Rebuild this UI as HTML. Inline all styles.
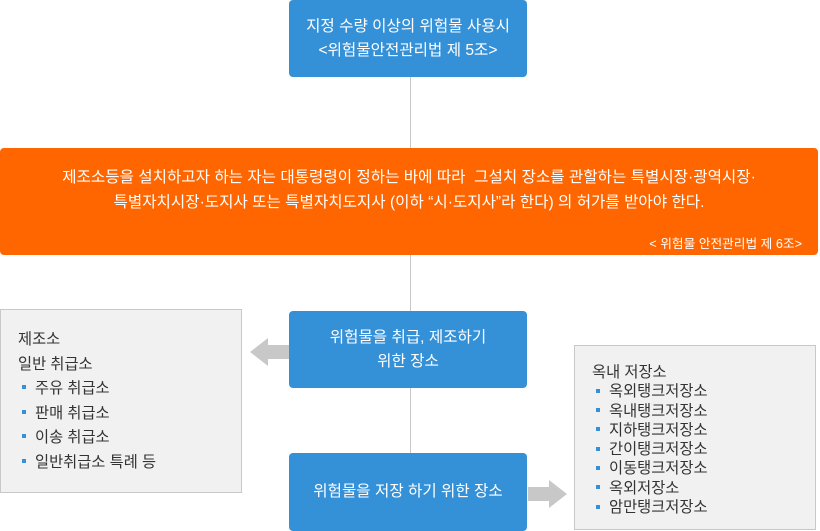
<!DOCTYPE html>
<html><head><meta charset="utf-8"><style>
*{margin:0;padding:0;box-sizing:border-box}
body{width:820px;height:531px;background:#fff;position:relative;overflow:hidden;font-family:"Liberation Sans","Noto Sans CJK KR",sans-serif}
.a{position:absolute}
.blue{background:#3491d8;color:#fff;border-radius:4px;display:flex;align-items:center;justify-content:center;text-align:center;font-size:15.6px;line-height:24px}
.grey{background:#f1f1f1;border:1px solid #c8c8c8;color:#333;font-size:15.3px}
.b{display:inline-block;width:4px;height:4px;background:#3491d8;margin:0 9px 3px 4px;vertical-align:middle}
</style></head><body>
<div class="a" style="left:410px;top:77px;width:1px;height:380px;background:#c8c8c8"></div>
<div class="a blue" style="left:289px;top:0;width:238px;height:77px">지정 수량 이상의 위험물 사용시<br>&lt;위험물안전관리법 제 5조&gt;</div>
<div class="a" style="left:0;top:148px;width:818px;height:107px;background:#ff6600;border-radius:4px;color:#fff">
<div style="position:absolute;left:0;top:17px;width:818px;text-align:center;font-size:15.6px;line-height:25px">제조소등을 설치하고자 하는 자는 대통령령이 정하는 바에 따라 &nbsp;그설치 장소를 관할하는 특별시장·광역시장·<br>특별자치시장·도지사 또는 특별자치도지사 (이하 “시·도지사”라 한다) 의 허가를 받아야 한다.</div>
<div style="position:absolute;right:16px;top:85px;font-size:12.7px">&lt; 위험물 안전관리법 제 6조&gt;</div>
</div>
<div class="a blue" style="left:289px;top:311px;width:238px;height:77px">위험물을 취급, 제조하기<br>위한 장소</div>
<div class="a blue" style="left:289px;top:453px;width:238px;height:78px">위험물을 저장 하기 위한 장소</div>
<div class="a grey" style="left:0;top:309px;width:242px;height:184px;padding:18px 0 0 17px;line-height:24.5px">제조소<br>일반 취급소<br><span class="b"></span>주유 취급소<br><span class="b"></span>판매 취급소<br><span class="b"></span>이송 취급소<br><span class="b"></span>일반취급소 특례 등</div>
<div class="a grey" style="left:574px;top:345px;width:242px;height:185px;padding:17px 0 0 17px;line-height:19.3px">옥내 저장소<br><span class="b"></span>옥외탱크저장소<br><span class="b"></span>옥내탱크저장소<br><span class="b"></span>지하탱크저장소<br><span class="b"></span>간이탱크저장소<br><span class="b"></span>이동탱크저장소<br><span class="b"></span>옥외저장소<br><span class="b"></span>암만탱크저장소</div>
<svg class="a" style="left:248px;top:336px" width="42" height="32"><polygon points="2,16 20,2 20,9 41,9 41,23 20,23 20,30" fill="#c8c8c8"/></svg>
<svg class="a" style="left:527px;top:478px" width="42" height="32"><polygon points="40,16 22,2 22,9 1,9 1,23 22,23 22,30" fill="#c8c8c8"/></svg>
</body></html>
